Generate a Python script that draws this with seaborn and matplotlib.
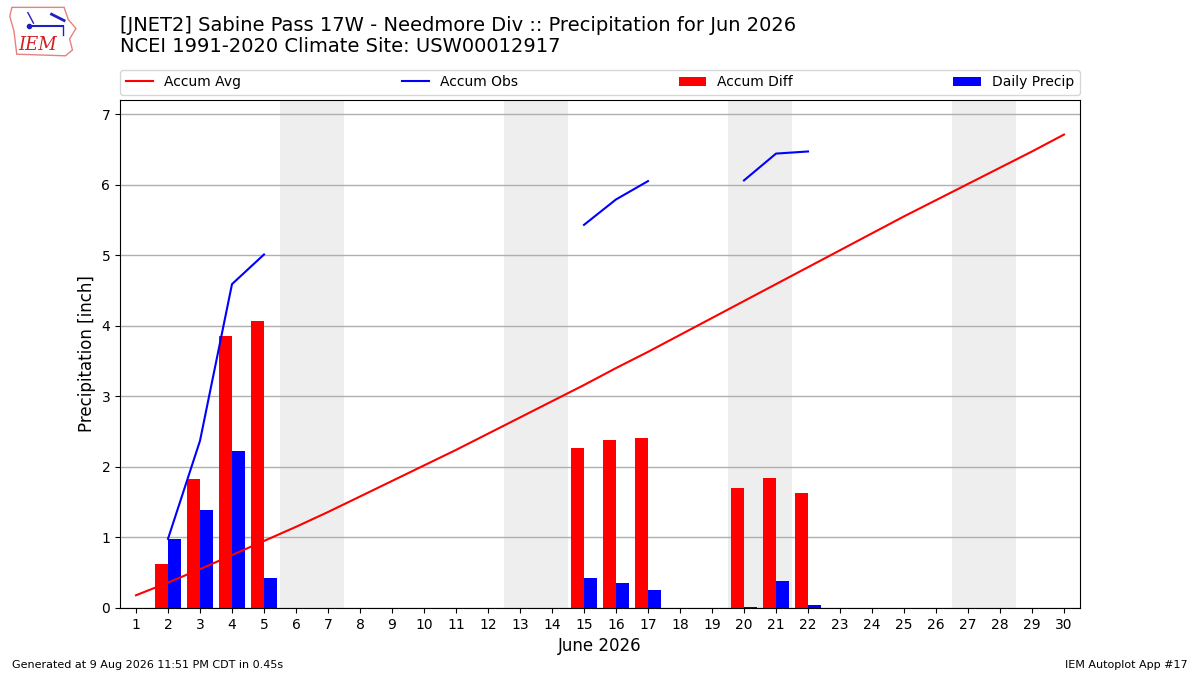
import numpy as np
import pandas as pd
import seaborn as sns
import matplotlib.pyplot as plt
from matplotlib.patches import Polygon

# --- data ---
days = list(range(1, 31))
accum_avg = [0.18, 0.36, 0.55, 0.75, 0.95, 1.15, 1.36, 1.58, 1.80, 2.02,
             2.24, 2.47, 2.70, 2.93, 3.16, 3.40, 3.63, 3.87, 4.11, 4.35,
             4.59, 4.83, 5.07, 5.31, 5.55, 5.78, 6.01, 6.24, 6.47, 6.71]
nan = np.nan
accum_obs = [nan, 0.98, 2.37, 4.59, 5.01, nan, nan, nan, nan, nan,
             nan, nan, nan, nan, 5.43, 5.79, 6.05, nan, nan, 6.06,
             6.44, 6.47, nan, nan, nan, nan, nan, nan, nan, nan]
accum_diff = [nan, 0.63, 1.83, 3.85, 4.07, nan, nan, nan, nan, nan,
              nan, nan, nan, nan, 2.27, 2.38, 2.41, nan, nan, 1.70,
              1.84, 1.63, nan, nan, nan, nan, nan, nan, nan, nan]
daily_precip = [nan, 0.98, 1.39, 2.23, 0.42, nan, nan, nan, nan, nan,
                nan, nan, nan, nan, 0.43, 0.35, 0.26, nan, nan, 0.01,
                0.38, 0.04, nan, nan, nan, nan, nan, nan, nan, nan]
weekend_starts = [6, 13, 20, 27]

df = pd.DataFrame({'day': days, 'avg': accum_avg, 'obs': accum_obs,
                   'diff': accum_diff, 'precip': daily_precip})
# segment id so the obs line breaks at missing days
df['seg'] = df['obs'].isna().cumsum()

fig = plt.figure(figsize=(12, 6.75), dpi=100)
ax = fig.add_axes([0.1, 0.0993, 0.8, 0.7526])

for d in weekend_starts:
    ax.axvspan(d - 0.5, d + 1.5, color='#EEEEEE', zorder=0, lw=0)

sns.lineplot(data=df, x='day', y='avg', color='red', lw=1.5, ax=ax,
             label='Accum Avg', zorder=3)
obs = df.dropna(subset=['obs'])
sns.lineplot(data=obs, x='day', y='obs', units='seg', estimator=None,
             color='blue', lw=1.5, ax=ax, label='Accum Obs', zorder=3)
ax.bar(df['day'], df['diff'], width=-0.4, align='edge', color='red',
       label='Accum Diff', zorder=2)
ax.bar(df['day'], df['precip'], width=0.4, align='edge', color='blue',
       label='Daily Precip', zorder=2)

ax.set_xlim(0.5, 30.5)
ax.set_ylim(0, 7.2)
ax.set_xticks(days)
ax.set_yticks(range(0, 8))
ax.grid(axis='y', color='#b0b0b0', lw=1, zorder=1)
ax.set_axisbelow(True)
ax.tick_params(labelsize=10)
ax.set_xlabel('June 2026', fontsize=12)
ax.set_ylabel('Precipitation [inch]', fontsize=12)

# one legend entry per label (the obs line has several segments)
handles, labels = ax.get_legend_handles_labels()
seen = {}
for h, l in zip(handles, labels):
    seen.setdefault(l, h)
ax.legend(list(seen.values()), list(seen.keys()), loc='lower left', ncol=4,
          mode='expand', bbox_to_anchor=(0, 1.01, 1, 0.05), borderaxespad=0,
          fontsize=10)

fig.text(0.1, 0.977, '[JNET2] Sabine Pass 17W - Needmore Div :: Precipitation for Jun 2026\n'
         'NCEI 1991-2020 Climate Site: USW00012917', fontsize=14, va='top',
         linespacing=1.15)
fig.text(0.01, 0.01, 'Generated at 9 Aug 2026 11:51 PM CDT in 0.45s', fontsize=8)
fig.text(0.99, 0.01, 'IEM Autoplot App #17', fontsize=8, ha='right')

# simple IEM logo
lax = fig.add_axes([0.007, 0.915, 0.058, 0.078])
lax.set_xlim(0, 1)
lax.set_ylim(0, 1)
lax.axis('off')
outline = [(0.05, 0.95), (0.8, 0.95), (0.86, 0.72), (0.97, 0.55), (0.88, 0.35),
           (0.92, 0.14), (0.82, 0.03), (0.12, 0.06), (0.08, 0.5), (0.02, 0.78)]
lax.add_patch(Polygon(outline, closed=True, fill=False, ec='#e88080', lw=1))
lax.plot([0.3, 0.78], [0.6, 0.6], color='#2020c0', lw=1.5)
lax.plot([0.28, 0.36], [0.85, 0.65], color='#2020c0', lw=1)
lax.plot([0.62, 0.8], [0.82, 0.7], color='#2020c0', lw=2)
lax.plot([0.78, 0.78], [0.6, 0.42], color='#2020c0', lw=1)
lax.plot(0.3, 0.6, 'o', color='#2020c0', ms=3)
lax.text(0.42, 0.24, 'IEM', color='#d02020', fontsize=13, family='DejaVu Serif',
         style='italic', ha='center', va='center')

fig.savefig('out.png', dpi=100)
